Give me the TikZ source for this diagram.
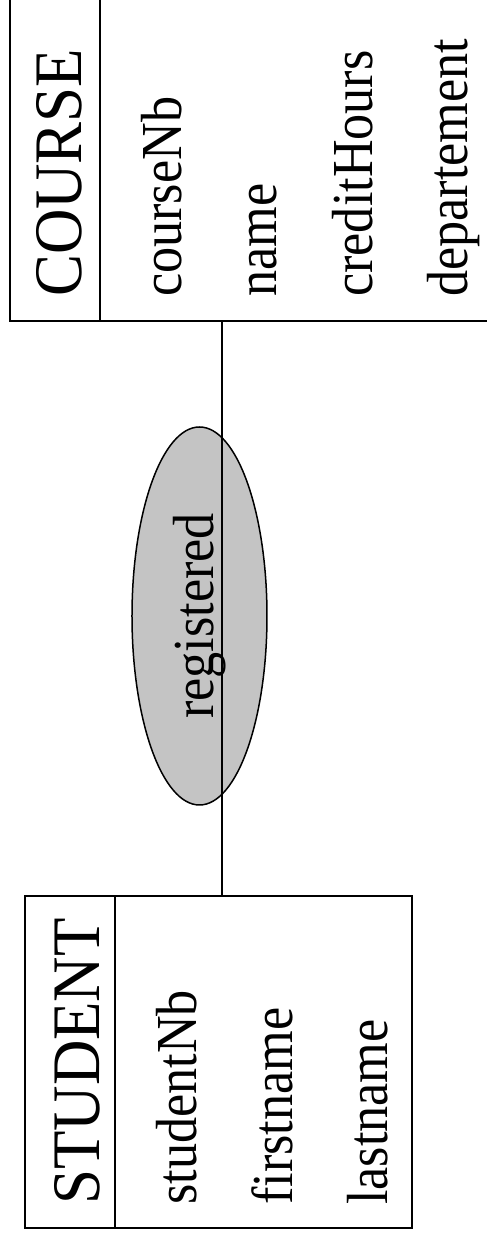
\documentclass[tikz,border=0pt]{standalone}
\usepackage{fontspec}
\setmainfont{Liberation Serif}
\newfontfamily\titlefamily[FakeStretch=0.925]{Liberation Serif}
\newfontfamily\attrfamily[FakeStretch=0.9]{Liberation Serif}
\usetikzlibrary{shapes,positioning,calc}
\definecolor{relgray}{HTML}{C4C4C4}
\newcommand{\titlefont}{\titlefamily\fontsize{68pt}{76pt}\selectfont}
\newcommand{\attrfont}{\attrfamily\fontsize{58pt}{66pt}\selectfont}

\begin{document}
\begin{tikzpicture}[
    x=1pt, y=1pt, rotate=90, transform shape,
    entity/.style={rectangle, draw, line width=1.8pt, inner sep=0pt},
    relation/.style={ellipse, draw, fill=relgray, line width=1.5pt, inner sep=0pt,
                     minimum width=378pt, minimum height=135pt, font=\attrfont},
    title/.style={anchor=base west, inner sep=0pt, font=\titlefont},
    attr/.style={anchor=base west, inner sep=0pt, font=\attrfont},
    link/.style={line width=1.8pt}
]
\useasboundingbox (0,0) rectangle (1242,487);
\clip (0,0) rectangle (1242,487);

%% ── Entities ─────────────────────────────────────────────────────
\node[entity, minimum width=332pt, minimum height=387pt] (student) at (180,268.5) {};
\node[entity, minimum width=400pt, minimum height=517pt] (course) at (1121,218.5) {};
\draw[link] ($(student.north west)+(0,-91)$) -- ($(student.north east)+(0,-91)$);
\draw[link] ($(course.north west)+(0,-91)$) -- ($(course.north east)+(0,-91)$);

%% ── Names and attributes ─────────────────────────────────────────
\node[title] (studentname) at (37,387) {STUDENT};
\node[attr] (studentnb) at (37,290) {studentNb};
\node[attr] (firstname) at (37,194) {firstname};
\node[attr] (lastname) at (37,99) {lastname};

\node[title] (coursename) at (945,405) {COURSE};
\node[attr] (coursenb) at (945,305) {courseNb};
\node[attr] (cname) at (945,210) {name};
\node[attr] (credit) at (945,114) {creditHours};
\node[attr] (dept) at (945,19) {departement};

%% ── Relationship ─────────────────────────────────────────────────
\node[relation] (registered) at (626,287.5) {registered};

\coordinate (linkstart) at ($(student.east)+(0,-3.5)$);
\draw[link] (linkstart) -- ($(course.north west)!(linkstart)!(course.south west)$);

\end{tikzpicture}
\end{document}
